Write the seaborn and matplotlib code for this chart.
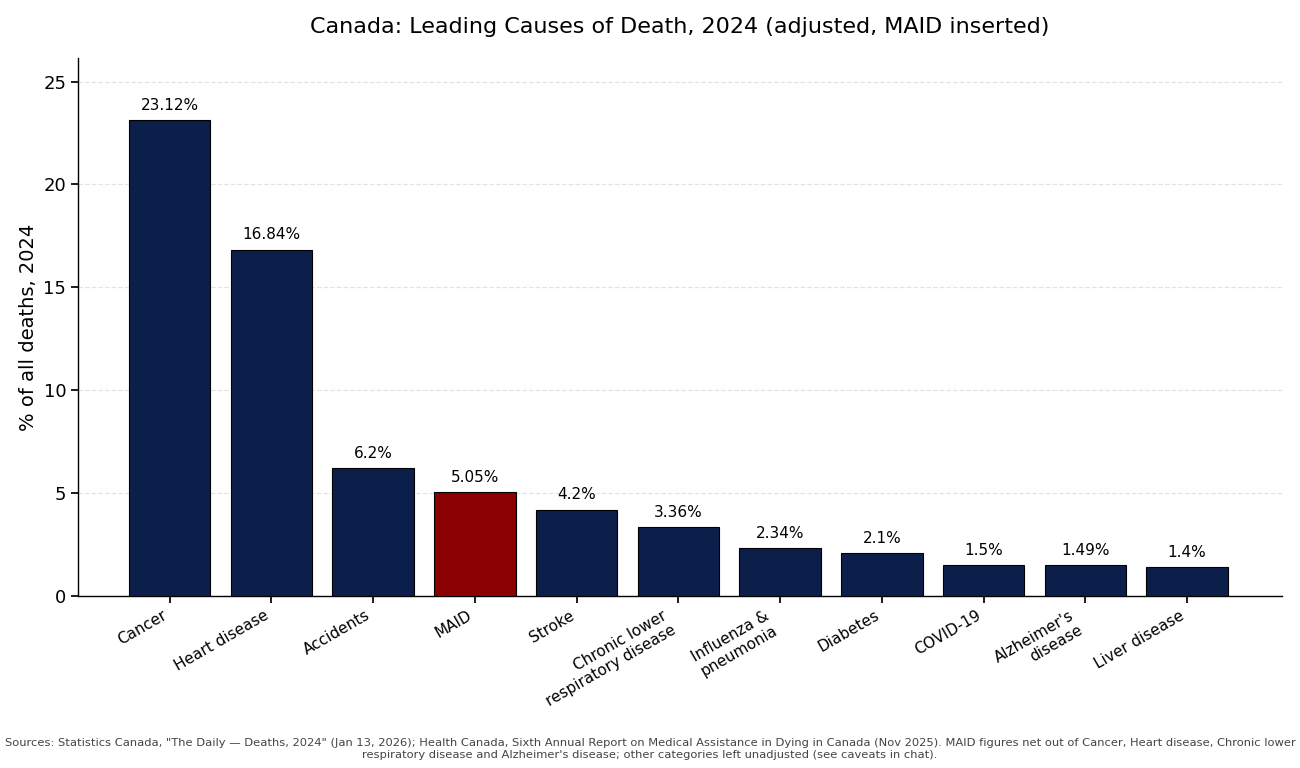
import matplotlib
matplotlib.use("Agg")
import matplotlib.pyplot as plt
import seaborn as sns
import pandas as pd

causes = ["Cancer", "Heart disease", "Accidents", "MAID", "Stroke",
          "Chronic lower\nrespiratory disease", "Influenza &\npneumonia", "Diabetes",
          "COVID-19", "Alzheimer's\ndisease", "Liver disease"]
values = [23.12, 16.84, 6.2, 5.05, 4.2, 3.36, 2.34, 2.1, 1.5, 1.49, 1.4]
labels = ["23.12%", "16.84%", "6.2%", "5.05%", "4.2%", "3.36%", "2.34%", "2.1%", "1.5%", "1.49%", "1.4%"]

navy = "#0c1f4b"
red = "#8b0000"
palette = [red if c == "MAID" else navy for c in causes]

sns.set_theme(style="white")
plt.rcParams['font.family'] = ['DejaVu Sans']
plt.rcParams['text.color'] = 'black'
plt.rcParams['axes.labelcolor'] = 'black'
plt.rcParams['xtick.color'] = 'black'
plt.rcParams['ytick.color'] = 'black'

df = pd.DataFrame({"cause": causes, "value": values})
fig = plt.figure(figsize=(13, 7.68), dpi=100)
ax = fig.add_axes([0.06, 0.224, 0.926, 0.700])

sns.barplot(data=df, x="cause", y="value", hue="cause", palette=palette,
            legend=False, width=0.8, edgecolor="black", linewidth=0.8,
            saturation=1, ax=ax, zorder=3)

for i, (v, t) in enumerate(zip(values, labels)):
    ax.text(i, v + 0.35, t, ha="center", va="bottom", fontsize=11, color="black")

ax.set_xlim(-0.9, 10.93)
ax.set_ylim(0, 26.13)
ax.set_yticks([0, 5, 10, 15, 20, 25])
ax.yaxis.grid(True, linestyle="--", color="#e3e3e3", linewidth=0.9, zorder=0)
ax.set_axisbelow(True)
ax.set_xlabel("")
ax.set_ylabel("% of all deaths, 2024", fontsize=14)
ax.tick_params(axis="y", labelsize=13, left=True, length=5, color="black")
ax.tick_params(axis="x", labelsize=11, bottom=True, length=5, color="black")
plt.setp(ax.get_xticklabels(), rotation=30, ha="right")
for s in ["top", "right"]:
    ax.spines[s].set_visible(False)
for s in ["left", "bottom"]:
    ax.spines[s].set_color("black")
    ax.spines[s].set_linewidth(1.0)

ax.set_title("Canada: Leading Causes of Death, 2024 (adjusted, MAID inserted)",
             fontsize=16, pad=18, color="black")

fig.text(0.5, 0.011,
         "Sources: Statistics Canada, \"The Daily \u2014 Deaths, 2024\" (Jan 13, 2026); Health Canada, Sixth Annual Report on Medical Assistance in Dying in Canada (Nov 2025). MAID figures net out of Cancer, Heart disease, Chronic lower\nrespiratory disease and Alzheimer's disease; other categories left unadjusted (see caveats in chat).",
         ha="center", va="bottom", fontsize=8.25, color="#444444")

fig.savefig("out.png", dpi=100)
